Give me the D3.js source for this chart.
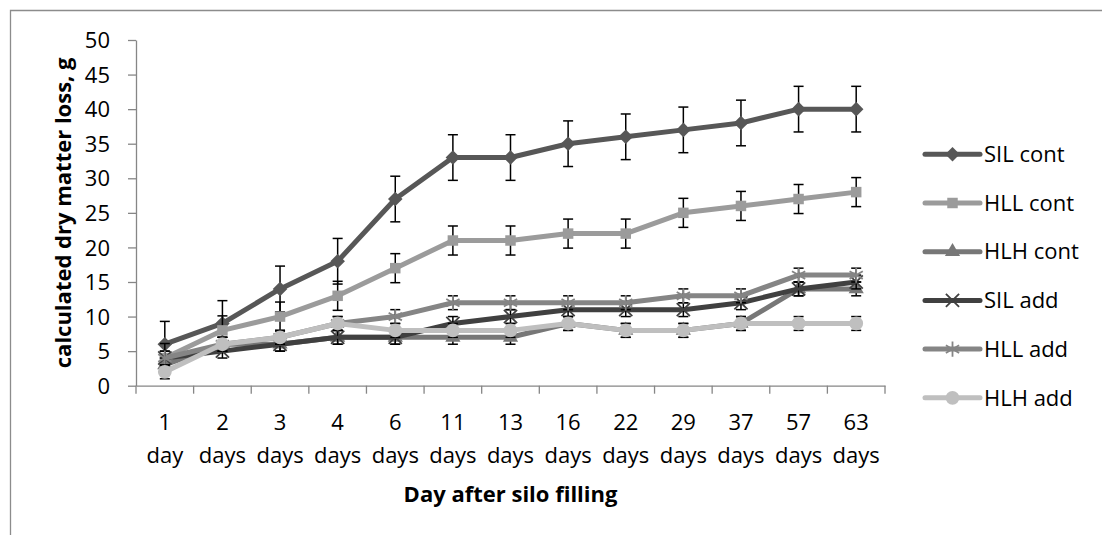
<!DOCTYPE html>
<html>
<head>
<meta charset="utf-8">
<script src="https://cdn.jsdelivr.net/npm/d3@7"></script>
<style>
  body { margin: 0; background: #fff; }
  svg text { font-family: "Open Sans", sans-serif; fill: #000; }
</style>
</head>
<body>
<div id="chart"></div>
<script>
// values
const categories = ["1 day", "2 days", "3 days", "4 days", "6 days", "11 days", "13 days",
    "16 days", "22 days", "29 days", "37 days", "57 days", "63 days"];
const yTicks = [0, 5, 10, 15, 20, 25, 30, 35, 40, 45, 50];

const silCont = [6, 9, 14, 18, 27, 33, 33, 35, 36, 37, 38, 40, 40];
const hllCont = [4, 8, 10, 13, 17, 21, 21, 22, 22, 25, 26, 27, 28];
const hlhCont = [3, 6, 6, 7, 7, 7, 7, 9, 8, 8, 9, 14, 14];
const silAdd = [4, 5, 6, 7, 7, 9, 10, 11, 11, 11, 12, 14, 15];
const hllAdd = [4, 6, 7, 9, 10, 12, 12, 12, 12, 13, 13, 16, 16];
const hlhAdd = [2, 6, 7, 9, 8, 8, 8, 9, 8, 8, 9, 9, 9];

const errSilCont = [3.3, 3.3, 3.3, 3.3, 3.3, 3.3, 3.3, 3.3, 3.3, 3.3, 3.3, 3.3, 3.3];
const errHllCont = [2.1, 2.1, 2.1, 2.1, 2.1, 2.1, 2.1, 2.1, 2.1, 2.1, 2.1, 2.1, 2.1];
const errSmall = [1, 1, 1, 1, 1, 1, 1, 1, 1, 1, 1, 1, 1];

const series = [
    { name: "SIL cont", values: silCont, err: errSilCont, color: "#575757", symbol: d3.symbolDiamond2, size: 135, fill: true },
    { name: "HLL cont", values: hllCont, err: errHllCont, color: "#9b9b9b", symbol: d3.symbolSquare, size: 110, fill: true },
    { name: "HLH cont", values: hlhCont, err: errSmall, color: "#777777", symbol: d3.symbolTriangle, size: 100, fill: true },
    { name: "SIL add", values: silAdd, err: errSmall, color: "#404040", symbol: d3.symbolTimes, size: 115, fill: false },
    { name: "HLL add", values: hllAdd, err: errSmall, color: "#858585", symbol: d3.symbolAsterisk, size: 165, fill: false },
    { name: "HLH add", values: hlhAdd, err: errSmall, color: "#bfbfbf", symbol: d3.symbolCircle, size: 150, fill: true }
];

const width = 1102, height = 535;
const plot = { left: 136, right: 885, top: 40, bottom: 385.7 };

const svg = d3.select("#chart").append("svg")
    .attr("width", width)
    .attr("height", height);

// chart frame (only top and left edges are visible)
svg.append("path")
    .attr("d", `M10.5,${height} V10.5 H${width}`)
    .attr("fill", "none")
    .attr("stroke", "#8c8c8c")
    .attr("stroke-width", 1.3);

const x = d3.scaleBand().domain(categories).range([plot.left, plot.right]);
const y = d3.scaleLinear().domain([0, 50]).range([plot.bottom, plot.top]);
const cx = c => x(c) + x.bandwidth() / 2;

// y axis
const yAxis = svg.append("g")
    .attr("transform", `translate(${plot.left},0)`)
    .call(d3.axisLeft(y).tickValues(yTicks).tickSize(8).tickSizeOuter(0).tickPadding(18));
yAxis.select(".domain").attr("stroke", "#868686").attr("stroke-width", 1.3);
yAxis.selectAll(".tick line").attr("stroke", "#868686").attr("stroke-width", 1.3);
yAxis.selectAll(".tick text").style("font-size", "22px").attr("dy", "0.35em");

// x axis
const xAxis = svg.append("g")
    .attr("transform", `translate(0,${plot.bottom})`)
    .call(d3.axisBottom(x).tickSize(0).tickSizeOuter(0).tickPadding(0));
xAxis.select(".domain").attr("stroke", "#868686").attr("stroke-width", 1.3);
xAxis.selectAll(".tick text")
    .style("font-size", "22px")
    .attr("y", 0).attr("dy", null)
    .text(null)
    .each(function (d) {
        const parts = d.split(" ");
        const t = d3.select(this);
        t.append("tspan").attr("x", 0).attr("y", 44).text(parts[0]);
        t.append("tspan").attr("x", 0).attr("y", 77).text(parts[1]);
    });
xAxis.selectAll(".boundary")
    .data(categories.concat([null]))
    .join("line")
    .attr("class", "boundary")
    .attr("x1", (d, i) => i < categories.length ? x(d) : plot.right)
    .attr("x2", (d, i) => i < categories.length ? x(d) : plot.right)
    .attr("y1", 0).attr("y2", 8)
    .attr("stroke", "#868686").attr("stroke-width", 1.3);

// axis titles
svg.append("text")
    .attr("x", (plot.left + plot.right) / 2)
    .attr("y", 502)
    .attr("text-anchor", "middle")
    .style("font-size", "22px").style("font-weight", "bold")
    .text("Day after silo filling");

svg.append("text")
    .attr("transform", `translate(63,${(plot.top + plot.bottom) / 2}) rotate(-90)`)
    .attr("text-anchor", "middle")
    .attr("dy", "0.35em")
    .style("font-size", "22px").style("font-weight", "bold")
    .text("calculated dry matter loss, g");

const line = d3.line()
    .x((d, i) => cx(categories[i]))
    .y(d => y(d));

function drawMarker(sel, s) {
    sel.attr("d", d3.symbol().type(s.symbol).size(s.size)())
        .attr("fill", s.fill ? s.color : "none")
        .attr("stroke", s.color)
        .attr("stroke-width", s.fill ? 0 : 1.8);
}

// series: line, error bars, markers
series.forEach(s => {
    const g = svg.append("g");
    g.append("path")
        .datum(s.values)
        .attr("d", line)
        .attr("fill", "none")
        .attr("stroke", s.color)
        .attr("stroke-width", 5)
        .attr("stroke-linejoin", "round");

    const eb = g.selectAll(".err")
        .data(s.values)
        .join("g")
        .attr("transform", (d, i) => `translate(${cx(categories[i])},0)`)
        .attr("stroke", "#000")
        .attr("stroke-width", 1.5);
    eb.append("line")
        .attr("y1", (d, i) => y(d - s.err[i]))
        .attr("y2", (d, i) => y(d + s.err[i]));
    eb.append("line")
        .attr("x1", -5).attr("x2", 5)
        .attr("y1", (d, i) => y(d + s.err[i]))
        .attr("y2", (d, i) => y(d + s.err[i]));
    eb.append("line")
        .attr("x1", -5).attr("x2", 5)
        .attr("y1", (d, i) => y(d - s.err[i]))
        .attr("y2", (d, i) => y(d - s.err[i]));

    g.selectAll(".mk")
        .data(s.values)
        .join("path")
        .attr("transform", (d, i) => `translate(${cx(categories[i])},${y(d)})`)
        .call(drawMarker, s);
});

// legend
const legend = svg.append("g");
series.forEach((s, i) => {
    const ly = 154.3 + i * 48.7;
    legend.append("line")
        .attr("x1", 925).attr("x2", 980)
        .attr("y1", ly).attr("y2", ly)
        .attr("stroke", s.color)
        .attr("stroke-width", 5)
        .attr("stroke-linecap", "round");
    legend.append("path")
        .attr("transform", `translate(952.5,${ly})`)
        .call(drawMarker, s);
    legend.append("text")
        .attr("x", 984)
        .attr("y", ly)
        .attr("dy", "0.35em")
        .style("font-size", "22px")
        .text(s.name);
});
</script>
</body>
</html>
